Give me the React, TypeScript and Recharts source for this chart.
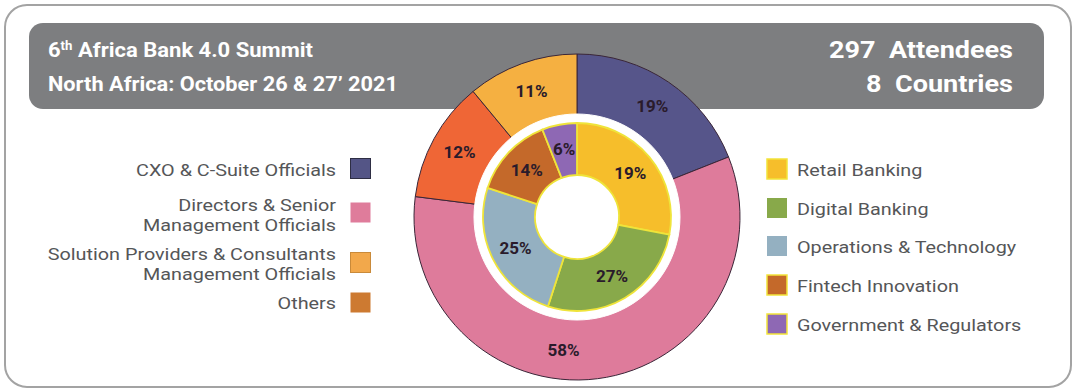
import { Pie, PieChart } from "recharts";

const outerNames = [
  "CXO & C-Suite Officials",
  "Directors & Senior Management Officials",
  "Others",
  "Solution Providers & Consultants Management Officials",
];
const outerValues = [19, 58, 12, 11];

const innerNames = ["Retail Banking", "Digital Banking", "Operations & Technology", "Fintech Innovation", "Government & Regulators"];
// share of the ring as drawn, and the text printed on each slice
const innerValues = [28, 27, 25, 14, 6];
const innerLabels = ["19%", "27%", "25%", "14%", "6%"];

const leftLegend = [
  ["CXO & C-Suite Officials"],
  ["Directors & Senior", "Management Officials"],
  ["Solution Providers & Consultants", "Management Officials"],
  ["Others"],
];

const outerColors = ["#56558a", "#de7b9b", "#ef6636", "#f5b041"];
const leftLegendColors = ["#545586", "#df7c9b", "#f2a84b", "#cd7a31"];
const innerColors = ["#f6be2b", "#88a94a", "#94b0c1", "#c4692a", "#8e68b4"];

const RADIAN = Math.PI / 180;
const FONT = "Roboto, 'Noto Sans', sans-serif";

const outerData = outerNames.map((name, i) => ({ name, value: outerValues[i], fill: outerColors[i] }));
const innerData = innerNames.map((name, i) => ({ name, value: innerValues[i], label: innerLabels[i], fill: innerColors[i] }));

function sliceLabel(radius: number, text: (p: any) => string, shift: (p: any) => number = () => 0) {
  return (p: any) => {
    const a = (p.midAngle + shift(p)) * RADIAN;
    const x = p.cx + radius * Math.cos(-a);
    const y = p.cy + radius * Math.sin(-a);
    return (
      <text x={x} y={y} textAnchor="middle" dominantBaseline="central" fill="#2a1b2b" fontFamily={FONT} fontWeight={700} fontSize={17}>
        {text(p)}
      </text>
    );
  };
}

// stretch legend text sideways about an anchor x
const stretch = (x: number) => `translate(${x},0) scale(1.165,1) translate(${-x},0)`;

export default function App() {
  const leftBaselines = [[176], [211, 231], [260.5, 280.5], [309]];
  const leftSwatchY = [158, 202, 252, 292];
  const rightBaselines = [176, 215, 253, 292, 331];

  return (
    <div style={{ position: "absolute", left: 0, top: 0, width: 1079, height: 391, background: "#fff" }}>
      <svg width={1079} height={391} style={{ position: "absolute", left: 0, top: 0 }}>
        <rect x={5} y={5} width={1066} height={382} rx={22} fill="#fff" stroke="#a3a3a3" strokeWidth={2} />
        <rect x={29} y={23} width={1015} height={86} rx={14} fill="#7d7e80" />
        <g fill="#fff" fontFamily={FONT} fontWeight={700}>
          <text x={48} y={57} fontSize={20} textLength={265} lengthAdjust="spacingAndGlyphs">
            6<tspan dy={-7} fontSize={12}>th</tspan>
            <tspan dy={7}> Africa Bank 4.0 Summit</tspan>
          </text>
          <text x={48} y={91} fontSize={20} textLength={350} lengthAdjust="spacingAndGlyphs">
            North Africa: October 26 &amp; 27’ 2021
          </text>
          <text x={829} y={58} fontSize={24} textLength={184} lengthAdjust="spacingAndGlyphs" style={{ whiteSpace: "pre" }}>
            {"297  Attendees"}
          </text>
          <text x={866} y={92} fontSize={24} textLength={147} lengthAdjust="spacingAndGlyphs" style={{ whiteSpace: "pre" }}>
            {"8  Countries"}
          </text>
        </g>
        <g fontFamily={FONT} fontSize={17} fill="#555658">
          {leftLegend.map((lines, i) => (
            <g key={i}>
              <g transform={stretch(336)}>
                {lines.map((line, j) => (
                  <text key={j} x={336} y={leftBaselines[i][j]} textAnchor="end">
                    {line}
                  </text>
                ))}
              </g>
              <rect
                x={350.5}
                y={leftSwatchY[i] + 0.5}
                width={20}
                height={20}
                fill={leftLegendColors[i]}
                stroke={i === 0 ? "#2e2e44" : i === 2 ? "#c98a3a" : "none"}
                strokeWidth={1}
              />
            </g>
          ))}
          {innerNames.map((name, i) => (
            <g key={name}>
              <rect
                x={767}
                y={rightBaselines[i] - 17}
                width={20}
                height={20}
                fill={innerColors[i]}
                stroke={i === 1 || i === 2 ? "none" : "#f2e43a"}
                strokeWidth={1.5}
              />
              <text x={797} y={rightBaselines[i]} transform={stretch(797)}>
                {name}
              </text>
            </g>
          ))}
        </g>
      </svg>
      <div style={{ position: "absolute", left: 402, top: 42 }}>
        <PieChart width={340} height={340}>
          <Pie
            data={outerData}
            dataKey="value"
            cx={170}
            cy={170}
            innerRadius={100}
            outerRadius={163}
            startAngle={90}
            endAngle={-270}
            stroke="#3a2638"
            strokeWidth={1}
            labelLine={false}
            label={sliceLabel(
              134,
              (p) => `${p.value}%`,
              (p) => (p.name.startsWith("Directors") ? -13 : 0)
            )}
            isAnimationActive={false}
          />
          <Pie
            data={[{ name: "gap", value: 1 }]}
            dataKey="value"
            cx={170}
            cy={170}
            innerRadius={92}
            outerRadius={103}
            fill="#fff"
            stroke="#fff"
            startAngle={90}
            endAngle={-270}
            isAnimationActive={false}
          />
          <Pie
            data={innerData}
            dataKey="value"
            cx={170}
            cy={170}
            innerRadius={42}
            outerRadius={94}
            startAngle={90}
            endAngle={-270}
            stroke="#efe43a"
            strokeWidth={1.8}
            labelLine={false}
            label={sliceLabel(69, (p) => p.payload?.label ?? p.label)}
            isAnimationActive={false}
          />
        </PieChart>
      </div>
    </div>
  );
}
